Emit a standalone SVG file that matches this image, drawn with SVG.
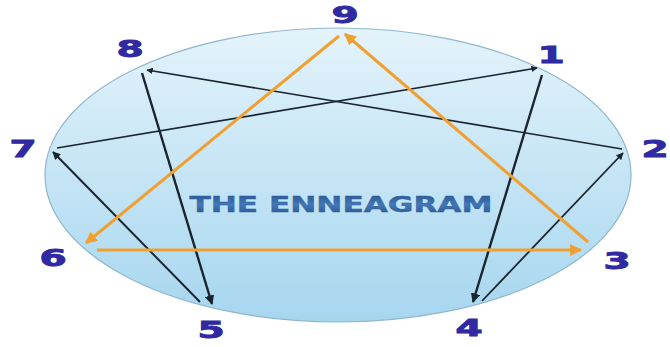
<svg xmlns="http://www.w3.org/2000/svg" width="670" height="347" viewBox="0 0 670 347">
<defs>
<linearGradient id="bg" x1="0" y1="0" x2="0" y2="1">
<stop offset="0" stop-color="#e4f3fb"/>
<stop offset="1" stop-color="#a6d6ef"/>
</linearGradient>
<linearGradient id="tg" x1="0" y1="0" x2="0" y2="1">
<stop offset="0" stop-color="#24508c"/>
<stop offset="0.5" stop-color="#4378b8"/>
<stop offset="1" stop-color="#24508c"/>
</linearGradient>
<marker id="ab" viewBox="0 0 10 10" refX="9" refY="5" markerWidth="4" markerHeight="4" orient="auto" markerUnits="strokeWidth">
<path d="M0,0 L10,5 L0,10 z" fill="#1b2530"/>
</marker>
<marker id="ao" viewBox="0 0 10 10" refX="9" refY="5" markerWidth="4" markerHeight="4" orient="auto" markerUnits="strokeWidth">
<path d="M0,0 L10,5 L0,10 z" fill="#f0a030"/>
</marker>
<style>
.k{stroke:#1b2530;fill:none;marker-end:url(#ab)}
.o{stroke:#f0a030;stroke-width:3;fill:none;marker-end:url(#ao)}
.n{font-family:"DejaVu Sans",sans-serif;font-weight:bold;font-size:23px;fill:#302aa2;stroke:#302aa2;stroke-width:0.9;text-anchor:middle}
</style>
</defs>
<g id="circle">
<ellipse cx="338" cy="175" rx="293" ry="147" fill="url(#bg)" stroke="#8fb6cc" stroke-width="1.2"/>
</g>
<g id="title">
<text x="341" y="212" font-family="DejaVu Sans,sans-serif" font-weight="bold" font-size="22" fill="url(#tg)" stroke="#2d5a96" stroke-width="0.4" text-anchor="middle" textLength="303" lengthAdjust="spacingAndGlyphs">THE ENNEAGRAM</text>
</g>
<g id="connectors">
<line class="k" x1="57" y1="148" x2="537" y2="68" stroke-width="1.6"/>
<line class="k" x1="622" y1="149" x2="147" y2="70" stroke-width="1.6"/>
<line class="k" x1="142" y1="73" x2="212" y2="304" stroke-width="2.4"/>
<line class="k" x1="200" y1="302" x2="53" y2="152" stroke-width="2"/>
<line class="k" x1="542" y1="75" x2="473" y2="302" stroke-width="2.4"/>
<line class="k" x1="482" y1="301" x2="623" y2="153" stroke-width="1.8"/>
<line class="o" x1="339" y1="36" x2="86" y2="243"/>
<line class="o" x1="97" y1="250" x2="581" y2="250"/>
<line class="o" x1="588" y1="242" x2="345" y2="34"/>
</g>
<g id="n9"><text class="n" transform="translate(345,23) scale(1.7,1)">9</text></g>
<g id="n1"><text class="n" transform="translate(551,63) scale(1.7,1)">1</text></g>
<g id="n2"><text class="n" transform="translate(655,157) scale(1.7,1)">2</text></g>
<g id="n3"><text class="n" transform="translate(617,269) scale(1.7,1)">3</text></g>
<g id="n4"><text class="n" transform="translate(469,336) scale(1.7,1)">4</text></g>
<g id="n5"><text class="n" transform="translate(211,338) scale(1.7,1)">5</text></g>
<g id="n6"><text class="n" transform="translate(53,266) scale(1.7,1)">6</text></g>
<g id="n7"><text class="n" transform="translate(23,157) scale(1.7,1)">7</text></g>
<g id="n8"><text class="n" transform="translate(130,57) scale(1.7,1)">8</text></g>
</svg>
